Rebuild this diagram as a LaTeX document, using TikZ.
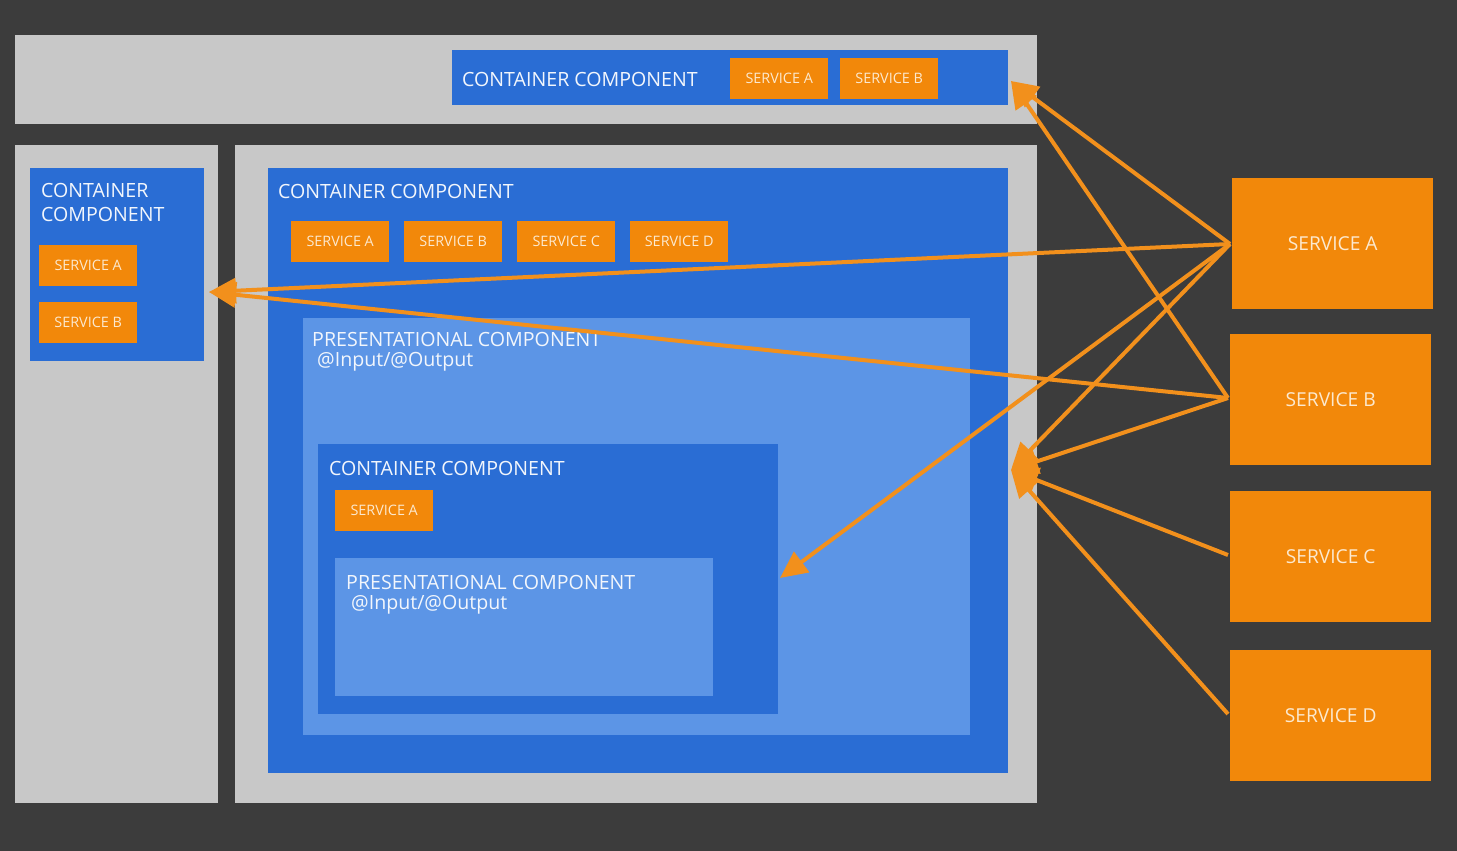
\documentclass[tikz,border=0pt]{standalone}
\usepackage{fontspec}
\setmainfont{Open Sans}
\usetikzlibrary{arrows.meta}
\definecolor{bgdark}{HTML}{3C3C3C}
\definecolor{panelgray}{HTML}{C8C8C8}
\definecolor{cblue}{HTML}{2A6DD4}
\definecolor{pblue}{HTML}{5C95E6}
\definecolor{sorange}{HTML}{F2880A}
\definecolor{aorange}{HTML}{F2901C}
\definecolor{stext}{HTML}{FCE9CF}
\definecolor{wtext}{HTML}{F2F6FC}
\tikzset{
  panel/.style={fill=panelgray, draw=none, anchor=north west, inner sep=0pt},
  cbox/.style={fill=cblue, draw=none, anchor=north west, inner sep=0pt},
  pbox/.style={fill=pblue, draw=none, anchor=north west, inner sep=0pt},
  title/.style={text=wtext, anchor=west, inner sep=0pt, font=\fontsize{19.6}{24}\selectfont, align=left},
  smallsvc/.style={fill=sorange, draw=none, anchor=north west, inner sep=0pt, minimum width=98pt, minimum height=41pt, text=stext, font=\fontsize{14.4}{17}\selectfont},
  bigsvc/.style={fill=sorange, draw=none, anchor=north west, inner sep=0pt, minimum width=201pt, minimum height=131pt, text=stext, font=\fontsize{19.2}{23}\selectfont},
  link/.style={draw=aorange, line width=4pt, -{Triangle[length=27pt,width=25pt]}}
}
\begin{document}
\begin{tikzpicture}[x=1pt,y=-1pt]
\fill[bgdark] (0,0) rectangle (1457,851);
\useasboundingbox (0,0) rectangle (1457,851);
% top panel
\node[panel, minimum width=1022pt, minimum height=89pt] (toppanel) at (15,35) {};
\node[cbox, minimum width=556pt, minimum height=55pt] (topc) at (452,50) {};
\node[title] (toptitle) at (462,79) {CONTAINER COMPONENT};
\node[smallsvc] (topsa) at (730,58) {SERVICE A};
\node[smallsvc] (topsb) at (840,58) {SERVICE B};
% left panel
\node[panel, minimum width=203pt, minimum height=658pt] (leftpanel) at (15,145) {};
\node[cbox, minimum width=174pt, minimum height=193pt] (leftc) at (30,168) {};
\node[title, anchor=north west, font=\fontsize{19.6}{24}\selectfont] (lefttitle) at (41,183) {CONTAINER\\COMPONENT};
\node[smallsvc] (leftsa) at (39,245) {SERVICE A};
\node[smallsvc] (leftsb) at (39,302) {SERVICE B};
% main panel
\node[panel, minimum width=802pt, minimum height=658pt] (mainpanel) at (235,145) {};
\node[cbox, minimum width=740pt, minimum height=605pt] (mainc) at (268,168) {};
\node[title] (maintitle) at (278,191) {CONTAINER COMPONENT};
\node[smallsvc] (msa) at (291,221) {SERVICE A};
\node[smallsvc] (msb) at (404,221) {SERVICE B};
\node[smallsvc] (msc) at (517,221) {SERVICE C};
\node[smallsvc] (msd) at (630,221) {SERVICE D};
\node[pbox, minimum width=667pt, minimum height=417pt] (pres1) at (303,318) {};
\node[title] (pres1t) at (312,339) {PRESENTATIONAL COMPONENT};
\node[title] (pres1io) at (317,362) {@Input/@Output};
\node[cbox, minimum width=460pt, minimum height=270pt] (innerc) at (318,444) {};
\node[title] (innert) at (329,468) {CONTAINER COMPONENT};
\node[smallsvc] (isa) at (335,490) {SERVICE A};
\node[pbox, minimum width=378pt, minimum height=138pt] (pres2) at (335,558) {};
\node[title] (pres2t) at (346,582) {PRESENTATIONAL COMPONENT};
\node[title] (pres2io) at (351,605) {@Input/@Output};
% right services
\node[bigsvc] (sa) at (1232,178) {SERVICE A};
\node[bigsvc] (sb) at (1230,334) {SERVICE B};
\node[bigsvc] (sc) at (1230,491) {SERVICE C};
\node[bigsvc] (sd) at (1230,650) {SERVICE D};
% targets
\coordinate (ttop) at (1011,81);
\coordinate (tleft) at (209,292);
\coordinate (tinner) at (780,578);
\coordinate (tmain) at (1011,470);
\coordinate (fa) at (1230,244);
\coordinate (fb) at (1228,398);
\coordinate (fc) at (1228,555);
\coordinate (fd) at (1228,714);
% connectors
\draw[link] (fa) -- (ttop);
\draw[link] (fb) -- (ttop);
\draw[link] (fa) -- (tleft);
\draw[link] (fb) -- (tleft);
\draw[link] (fa) -- (tinner);
\draw[link] (fa) -- (tmain);
\draw[link] (fb) -- (tmain);
\draw[link] (fc) -- (tmain);
\draw[link] (fd) -- (tmain);
\end{tikzpicture}
\end{document}
